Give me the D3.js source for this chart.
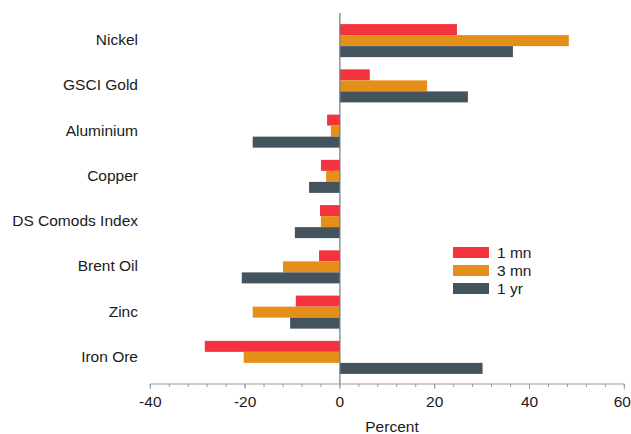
<!DOCTYPE html>
<html>
<head>
<meta charset="utf-8">
<script src="https://cdn.jsdelivr.net/npm/d3@7"></script>
<style>
  body { margin: 0; background: #fff; }
  text { font-family: "Liberation Sans", Arial, sans-serif; fill: #1a1a1a; }
</style>
</head>
<body>
<div id="chart"></div>
<script>
// data
const categories = ["Nickel", "GSCI Gold", "Aluminium", "Copper", "DS Comods Index", "Brent Oil", "Zinc", "Iron Ore"];
const seriesNames = ["1 mn", "3 mn", "1 yr"];
const oneMonth = [24.7, 6.3, -2.7, -4.0, -4.2, -4.4, -9.3, -28.5];
const threeMonth = [48.3, 18.4, -1.9, -2.9, -4.0, -12.0, -18.4, -20.3];
const oneYear = [36.5, 27.0, -18.4, -6.5, -9.5, -20.7, -10.5, 30.1];
const seriesValues = [oneMonth, threeMonth, oneYear];
const xTicks = [-40, -20, 0, 20, 40, 60];

const colors = ["#f5333f", "#e58f1b", "#44545f"];
const fontSize = "15.5px";

const width = 631;
const height = 434;

const svg = d3.select("#chart")
  .append("svg")
  .attr("width", width)
  .attr("height", height);

// scales
const x = d3.scaleLinear().domain([-40, 60]).range([150.3, 624.3]);

const y = d3.scaleBand()
  .domain(categories)
  .range([18, 380])
  .paddingInner(0.27)
  .paddingOuter(0.135);

const ySub = d3.scaleBand()
  .domain(seriesNames)
  .range([0, y.bandwidth()]);

// bars
categories.forEach((cat, i) => {
  const g = svg.append("g").attr("transform", `translate(0,${y(cat)})`);
  seriesNames.forEach((s, j) => {
    const v = seriesValues[j][i];
    g.append("rect")
      .attr("x", Math.min(x(0), x(v)))
      .attr("y", ySub(s))
      .attr("width", Math.abs(x(v) - x(0)))
      .attr("height", ySub.bandwidth())
      .attr("fill", colors[j]);
  });
});

// zero line
svg.append("line")
  .attr("x1", x(0)).attr("x2", x(0))
  .attr("y1", 13).attr("y2", 384)
  .attr("stroke", "#6d7b82")
  .attr("stroke-width", 1.2);

// x axis (minor ticks every 4)
const axisY = 384;
const minor = d3.range(-40, 61, 4);
const axisG = svg.append("g").attr("transform", `translate(0,${axisY})`);
axisG.append("line")
  .attr("x1", x(-40)).attr("x2", x(60))
  .attr("stroke", "#999").attr("stroke-width", 1);
axisG.selectAll("line.minor")
  .data(minor)
  .enter().append("line")
  .attr("class", "minor")
  .attr("x1", d => x(d)).attr("x2", d => x(d))
  .attr("y1", 0).attr("y2", 3)
  .attr("stroke", "#999");
axisG.selectAll("line.major")
  .data(xTicks)
  .enter().append("line")
  .attr("class", "major")
  .attr("x1", d => x(d)).attr("x2", d => x(d))
  .attr("y1", 0).attr("y2", 5)
  .attr("stroke", "#999");
// last label nudged left so it stays inside the window
axisG.selectAll("text")
  .data(xTicks)
  .enter().append("text")
  .attr("x", d => d === 60 ? x(d) - 2 : x(d))
  .attr("y", 18)
  .attr("dy", "0.35em")
  .attr("text-anchor", "middle")
  .style("font-size", fontSize)
  .text(d => d);

svg.append("text")
  .attr("x", 392)
  .attr("y", 427)
  .attr("dy", "0.35em")
  .attr("text-anchor", "middle")
  .style("font-size", fontSize)
  .text("Percent");

// category labels
svg.selectAll("text.cat")
  .data(categories)
  .enter().append("text")
  .attr("class", "cat")
  .attr("x", 138)
  .attr("y", d => y(d) + y.bandwidth() / 2 - 1)
  .attr("dy", "0.35em")
  .attr("text-anchor", "end")
  .style("font-size", fontSize)
  .text(d => d);

// legend
const legend = svg.append("g").attr("transform", "translate(453,247)");
seriesNames.forEach((s, j) => {
  legend.append("rect")
    .attr("x", 0).attr("y", j * 18)
    .attr("width", 36).attr("height", 11)
    .attr("fill", colors[j]);
  legend.append("text")
    .attr("x", 44).attr("y", j * 18 + 5.5)
    .attr("dy", "0.35em")
    .style("font-size", fontSize)
    .text(s);
});
</script>
</body>
</html>
